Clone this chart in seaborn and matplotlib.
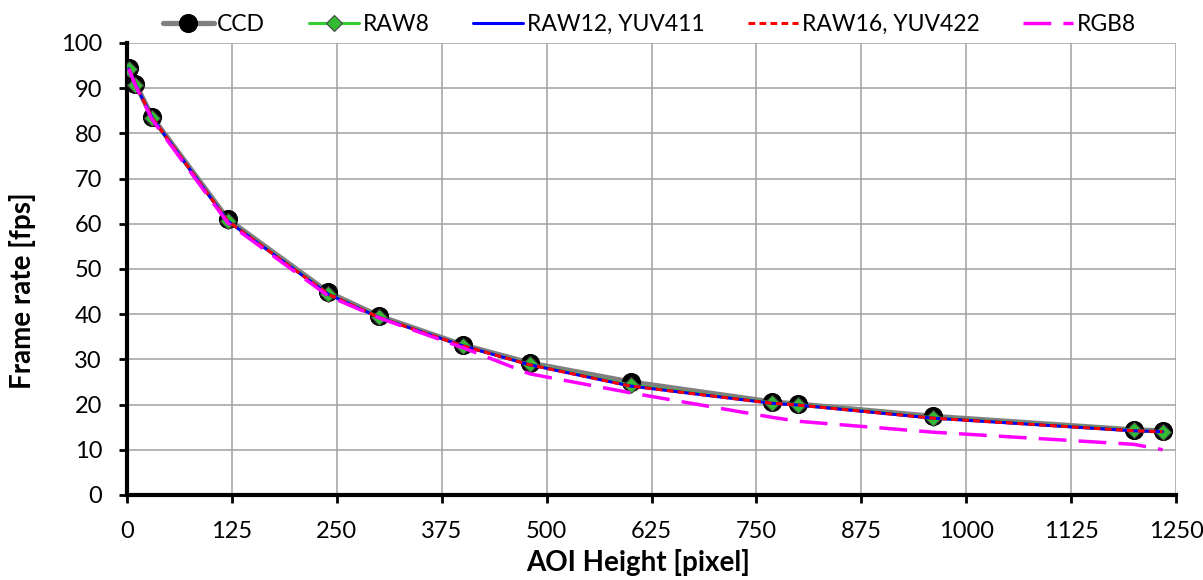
import seaborn as sns
import matplotlib.pyplot as plt
import pandas as pd

# AOI heights (pixel) and frame rates (fps)
aoi_height = [2, 10, 30, 120, 240, 300, 400, 480, 600, 768, 800, 960, 1200, 1234]
fps_ccd = [94.5, 91.0, 83.6, 61.0, 44.8, 39.6, 33.2, 29.2, 25.0, 20.6, 20.1, 17.4, 14.4, 14.2]
fps_raw8 = [94.3, 90.8, 83.4, 60.7, 44.5, 39.4, 33.0, 28.9, 24.3, 20.4, 20.0, 17.1, 14.3, 14.0]
fps_raw12 = [94.3, 90.8, 83.4, 60.6, 44.4, 39.3, 33.0, 28.8, 24.1, 20.3, 19.9, 17.0, 14.2, 14.0]
fps_raw16 = [94.3, 90.8, 83.4, 60.6, 44.4, 39.3, 33.0, 28.8, 24.1, 20.3, 19.9, 17.0, 14.2, 14.0]
fps_rgb8 = [94.3, 90.6, 83.0, 60.2, 44.0, 39.2, 32.6, 26.8, 22.6, 17.2, 16.3, 13.9, 11.2, 10.0]

df = pd.DataFrame({
    'aoi': aoi_height,
    'CCD': fps_ccd,
    'RAW8': fps_raw8,
    'RAW12, YUV411': fps_raw12,
    'RAW16, YUV422': fps_raw16,
    'RGB8': fps_rgb8,
})

sns.set_style('white')
plt.rcParams['font.family'] = ['Lato', 'DejaVu Sans']
plt.rcParams['text.color'] = 'black'
plt.rcParams['axes.labelcolor'] = 'black'

fig = plt.figure(figsize=(12.03, 5.80), dpi=100)
ax = fig.add_axes([0.1056, 0.1466, 0.872, 0.7793])

sns.lineplot(data=df, x='aoi', y='CCD', ax=ax, color='#808080', linewidth=3.8,
             marker='o', markersize=13, markerfacecolor='black', markeredgecolor='black',
             label='CCD', zorder=3)
sns.lineplot(data=df, x='aoi', y='RAW8', ax=ax, color='#33cc33', linewidth=2.2,
             marker='D', markersize=8.5, markerfacecolor='#33bb33', markeredgecolor='#444444',
             markeredgewidth=0.8, label='RAW8', zorder=4)
sns.lineplot(data=df, x='aoi', y='RAW12, YUV411', ax=ax, color='#0000ff', linewidth=2.2,
             label='RAW12, YUV411', zorder=5)
sns.lineplot(data=df, x='aoi', y='RAW16, YUV422', ax=ax, color='#ff0000', linewidth=2.2,
             dashes=(2.2, 1.4), label='RAW16, YUV422', zorder=6)
sns.lineplot(data=df, x='aoi', y='RGB8', ax=ax, color='#ff00ff', linewidth=2.5,
             dashes=(8, 3.5), label='RGB8', zorder=7)

ax.set_xlim(0, 1250)
ax.set_ylim(0, 100)
ax.set_xticks(range(0, 1251, 125))
ax.set_yticks(range(0, 101, 10))
ax.grid(True, color='#a0a0a0', linewidth=1.1)
ax.set_axisbelow(True)

for side in ['top', 'right']:
    ax.spines[side].set_visible(False)
for side in ['left', 'bottom']:
    ax.spines[side].set_color('black')
    ax.spines[side].set_linewidth(3)

ax.tick_params(axis='both', direction='out', length=6, width=2, colors='black',
               labelsize=17, left=True, bottom=True)
ax.tick_params(axis='y', pad=12)
ax.tick_params(axis='x', pad=13)
ax.set_xlabel('AOI Height [pixel]', fontsize=20, fontweight='bold')
ax.set_ylabel('Frame rate [fps]', fontsize=20, fontweight='bold')
ax.xaxis.set_label_coords(0.487, -0.119)
ax.yaxis.set_label_coords(-0.087, 0.451)

handles, labels = ax.get_legend_handles_labels()
ax.get_legend().remove()
fig.legend(handles, labels, loc='upper center', bbox_to_anchor=(0.54, 1.012), ncol=5,
           frameon=False, fontsize=16.5, handlelength=2.2, handletextpad=0.15,
           columnspacing=1.9)

fig.savefig('out.png', dpi=100)
